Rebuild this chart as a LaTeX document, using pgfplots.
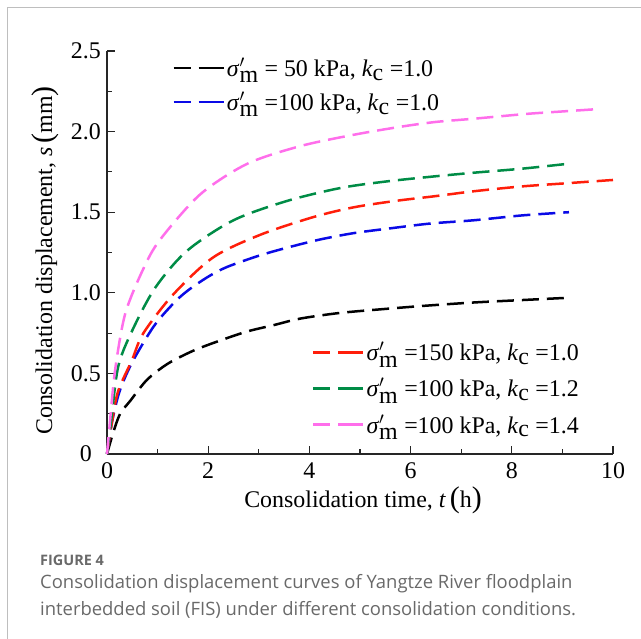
\documentclass[border=0pt]{standalone}
\usepackage{fontspec}
\setmainfont{Liberation Serif}
\newfontfamily\capfont{Open Sans}
\usepackage{pgfplots}
\pgfplotsset{compat=1.18}
\definecolor{cblue}{RGB}{10,10,230}
\definecolor{cred}{RGB}{255,30,10}
\definecolor{cgreen}{RGB}{0,140,70}
\definecolor{cmag}{RGB}{255,110,235}
\definecolor{capgray}{RGB}{105,105,105}
\definecolor{framegray}{RGB}{190,190,190}
\newcommand{\sm}{\textit{σ}$^{\prime}_{\textrm{m}}$}
\newcommand{\kc}{\textit{k}$_{\textrm{c}}$}
\pgfplotsset{
  common/.style={
    at={(107bp,-454bp)}, anchor=south west,
    scale only axis, width=506bp, height=403bp,
    xmin=0, xmax=10, ymin=0, ymax=2.5, clip=false,
    legend cell align=left,
    legend image code/.code={\draw[##1] (0bp,0bp) -- (41bp,0bp); \path (41bp,0bp) -- (50bp,0bp);},
  },
  cur/.style={line width=2.5bp, dash pattern=on 17bp off 8bp, smooth, no markers},
}
\begin{document}
\begin{tikzpicture}
\useasboundingbox (0,0) rectangle (641bp,-639bp);
\draw[framegray, line width=1.3bp] (7.3bp,-639bp) -- (7.3bp,-7.3bp) -- (641bp,-7.3bp);

\begin{axis}[common,
  axis x line*=bottom, axis y line*=left,
  axis line style={line width=1.2bp, black!85, -},
  tick style={line width=1.1bp, black!85},
  tick align=inside, major tick length=8bp, minor tick length=5bp,
  xtick={0,2,4,6,8,10}, minor xtick={1,3,5,7,9},
  xticklabels={0,2,4,6,8,10},
  ytick={0,0.5,1,1.5,2,2.5}, minor ytick={0.25,0.75,1.25,1.75,2.25},
  yticklabels={0,0.5,1.0,1.5,2.0,2.5},
  ticklabel style={font=\fontsize{24}{24}\selectfont},
  xticklabel style={yshift=-5bp},
  yticklabel style={text width=32bp, align=center, inner sep=0pt, anchor=east, xshift=-5bp},
  label style={font=\fontsize{24}{28}\selectfont},
  xlabel={Consolidation time, \textit{t}\,{\fontsize{30}{30}\selectfont(}h{\fontsize{30}{30}\selectfont)}},
  ylabel={Consolidation displacement, \textit{s}\,{\fontsize{30}{30}\selectfont(}mm{\fontsize{30}{30}\selectfont)}},
  xlabel style={at={(axis description cs:0.506,-0.114)}, anchor=center},
  ylabel style={at={(axis description cs:-0.1225,0.48)}, anchor=center},
  legend style={at={(axis description cs:0.129,0.988)}, anchor=north west,
    draw=none, fill=none, font=\fontsize{24}{24}\selectfont,
    inner sep=0pt, row sep=10bp, nodes={inner sep=2bp}},
]
\addplot[cur, black] coordinates {
(0,0) (0.12,0.13) (0.26,0.25) (0.46,0.33) (0.79,0.46) (1.2,0.56) (1.7,0.64)
(2.2,0.70) (2.77,0.76) (3.3,0.80) (3.82,0.84) (4.6,0.875) (5.5,0.90) (6.3,0.92)
(7.25,0.94) (8.2,0.955) (9.17,0.97)};
\addlegendentry{\sm\ = 50 kPa, \kc\ =1.0}
\addplot[cur, cblue] coordinates {
(0,0) (0.1,0.2) (0.25,0.39) (0.5,0.57) (0.92,0.79) (1.3,0.93) (1.58,1.01)
(2.0,1.10) (2.37,1.16) (3.0,1.23) (3.56,1.28) (4.2,1.33) (4.87,1.37) (5.6,1.40)
(6.4,1.43) (7.25,1.45) (8.2,1.48) (9.13,1.50)};
\addlegendentry{\sm\ =100 kPa, \kc\ =1.0}
\end{axis}

\begin{axis}[common, hide axis,
  legend style={at={(axis description cs:0.405,0.2825)}, anchor=north west,
    draw=none, fill=none, font=\fontsize{24}{24}\selectfont,
    inner sep=0pt, row sep=12bp, nodes={inner sep=2bp}},
]
\addplot[cur, cred] coordinates {
(0,0) (0.1,0.2) (0.22,0.39) (0.49,0.58) (0.72,0.75) (1.31,0.99) (2.1,1.22)
(3.03,1.36) (4.08,1.47) (4.87,1.53) (5.7,1.57) (6.5,1.60) (7.25,1.63) (8.2,1.66)
(9.1,1.68) (10.0,1.70)};
\addlegendentry{\sm\ =150 kPa, \kc\ =1.0}
\addplot[cur, cgreen] coordinates {
(0,0) (0.08,0.2) (0.22,0.54) (0.49,0.76) (0.95,1.03) (1.58,1.26) (2.5,1.45)
(3.56,1.57) (4.61,1.65) (5.5,1.69) (6.4,1.72) (7.25,1.745) (8.2,1.77) (9.1,1.80)};
\addlegendentry{\sm\ =100 kPa, \kc\ =1.2}
\addplot[cur, cmag] coordinates {
(0,0) (0.05,0.17) (0.16,0.52) (0.36,0.87) (0.72,1.15) (1.05,1.33) (1.84,1.61)
(2.77,1.80) (3.82,1.91) (4.87,1.98) (5.8,2.03) (6.5,2.06) (7.25,2.08) (8.3,2.11)
(9.0,2.125) (9.72,2.14)};
\addlegendentry{\sm\ =100 kPa, \kc\ =1.4}
\end{axis}

\node[anchor=base west, inner sep=0pt, text=capgray, font=\capfont\bfseries\fontsize{14.5}{14.5}\selectfont] at (40bp,-565bp) {FIGURE 4};
\node[anchor=base west, inner sep=0pt, text=capgray, font=\capfont\fontsize{18.5}{18.5}\selectfont] at (40bp,-588bp) {Consolidation displacement curves of Yangtze River floodplain};
\node[anchor=base west, inner sep=0pt, text=capgray, font=\capfont\fontsize{18.5}{18.5}\selectfont] at (40bp,-615bp) {interbedded soil (FIS) under different consolidation conditions.};
\end{tikzpicture}
\end{document}
